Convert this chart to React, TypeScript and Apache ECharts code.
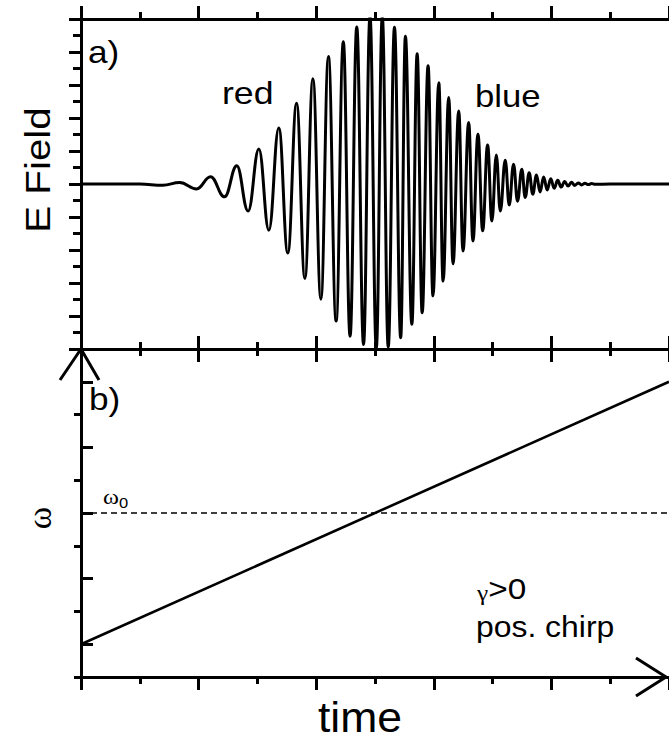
import { useEffect, useRef } from "react";
import * as echarts from "echarts";

// Chirped pulse, drawn through its successive maxima and minima (time in axis units, field in axis units)
const pulseTime = [
  0, 1.0, 1.39, 1.678, 1.966, 2.203, 2.441, 2.649, 2.842, 3.025, 3.195, 3.364, 3.517, 3.666,
  3.808, 3.944, 4.08, 4.208, 4.339, 4.461, 4.576, 4.69, 4.805, 4.915, 5.022, 5.124, 5.225,
  5.331, 5.437, 5.517, 5.627, 5.717, 5.802, 5.903, 5.986, 6.085, 6.158, 6.254, 6.327, 6.424,
  6.497, 6.593, 6.666, 6.751, 6.831, 6.915, 6.988, 7.063, 7.131, 7.215, 7.283, 7.356, 7.424,
  7.497, 7.554, 7.622, 7.683, 7.746, 7.807, 7.868, 7.929, 7.988, 8.047, 8.107, 8.166, 8.225,
  8.283, 8.341, 8.398, 8.456, 8.514, 8.571, 8.627, 8.685, 8.741, 9.0, 10,
];
const pulseField = [
  0, 0, -0.04, 0.045, -0.15, 0.22, -0.39, 0.55, -0.82, 1.06, -1.4, 1.7, -2.09, 2.45,
  -2.86, 3.19, -3.49, 3.86, -4.15, 4.31, -4.61, 4.76, -4.86, 5.08, -4.98, 5.08, -4.94,
  4.75, -4.66, 4.48, -4.25, 3.95, -3.9, 3.58, -3.39, 3.07, -2.94, 2.62, -2.42, 2.21,
  -2.03, 1.86, -1.73, 1.51, -1.42, 1.18, -1.12, 0.88, -0.82, 0.72, -0.64, 0.6, -0.52,
  0.45, -0.41, 0.34, -0.31, 0.27, -0.24, 0.21, -0.18, 0.16, -0.13, 0.11, -0.094, 0.079,
  -0.064, 0.052, -0.042, 0.033, -0.027, 0.021, -0.017, 0.014, -0.011, 0, 0,
];

// Instantaneous frequency of the positively chirped pulse
const chirpTime = [0, 10];
const chirpOmega = [1, 9];
const omega0 = 5;

// Axis extents and tick positions
const timeRange = [0, 10];
const fieldRange = [-5, 5];
const omegaRange = [0, 10];
const omegaLongTicks = [1, 3, 5, 7, 9];
const omegaShortTicks = [0, 2, 4, 6, 8, 10];

const FONT = "Liberation Sans, Arial, sans-serif";
const SERIF = "Liberation Serif, Times New Roman, serif";
const INK = "#000";

const tickStyle = { color: INK, width: 3 };

function xAxisDef(gridIndex: number, position: "top" | "bottom", inside: boolean) {
  return {
    type: "value",
    gridIndex,
    position,
    min: timeRange[0],
    max: timeRange[1],
    interval: 2,
    axisLine: { show: true, onZero: false, lineStyle: { color: INK, width: 3 } },
    axisTick: { show: true, inside, length: 13, lineStyle: tickStyle },
    minorTick: { show: true, splitNumber: 2, length: 7, lineStyle: tickStyle },
    axisLabel: { show: false },
    splitLine: { show: false },
  };
}

// plain text label; the face is set slightly wide, as in the figure
function label(text: string, x: number, y: number, size: number, sx: number, align = "left", rotation = 0, family = FONT) {
  return {
    type: "text",
    x,
    y,
    rotation,
    scaleX: sx,
    style: { text, font: `${size}px ${family}`, fill: INK, align, verticalAlign: "middle" },
  };
}

export default function App() {
  const ref = useRef<HTMLDivElement>(null);

  useEffect(() => {
    if (!ref.current) return;
    const chart = echarts.init(ref.current, undefined, { renderer: "svg" });

    chart.setOption({
      animation: false,
      backgroundColor: "#fff",
      grid: [
        { left: 81, top: 19, width: 590, height: 330 },
        { left: 81, top: 349, width: 590, height: 328 },
      ],
      xAxis: [
        xAxisDef(0, "top", false),
        xAxisDef(0, "bottom", true),
        xAxisDef(1, "top", true),
        xAxisDef(1, "bottom", false),
      ],
      yAxis: [
        {
          type: "value",
          gridIndex: 0,
          min: fieldRange[0],
          max: fieldRange[1],
          interval: 1,
          axisLine: { show: true, onZero: false, lineStyle: { color: INK, width: 3 } },
          axisTick: { show: true, inside: false, length: 12, lineStyle: tickStyle },
          minorTick: { show: true, splitNumber: 2, length: 8, lineStyle: tickStyle },
          axisLabel: { show: false },
          splitLine: { show: false },
        },
        {
          type: "value",
          gridIndex: 1,
          min: omegaRange[0],
          max: omegaRange[1],
          axisLine: { show: true, onZero: false, lineStyle: { color: INK, width: 3 } },
          axisTick: { show: true, inside: false, length: 7, customValues: omegaShortTicks, lineStyle: tickStyle },
          axisLabel: { show: false },
          splitLine: { show: false },
        },
        {
          type: "value",
          gridIndex: 1,
          min: omegaRange[0],
          max: omegaRange[1],
          axisLine: { show: false },
          axisTick: { show: true, inside: false, length: 12, customValues: omegaLongTicks, lineStyle: tickStyle },
          axisLabel: { show: false },
          splitLine: { show: false },
        },
      ],
      series: [
        {
          name: "E Field",
          type: "line",
          xAxisIndex: 0,
          yAxisIndex: 0,
          data: pulseTime.map((t, i) => [t, pulseField[i]]),
          showSymbol: false,
          smooth: 0.42,
          smoothMonotone: "x",
          clip: true,
          lineStyle: { color: INK, width: 3 },
        },
        {
          name: "ω",
          type: "line",
          xAxisIndex: 3,
          yAxisIndex: 1,
          data: chirpTime.map((t, i) => [t, chirpOmega[i]]),
          showSymbol: false,
          lineStyle: { color: INK, width: 2.6 },
        },
        {
          name: "ω0",
          type: "line",
          xAxisIndex: 3,
          yAxisIndex: 1,
          data: timeRange.map((t) => [t, omega0]),
          showSymbol: false,
          lineStyle: { color: INK, width: 1.3, type: [6, 4] },
        },
      ],
    });

    // Arrow heads on the frequency axes, placed at the ends of the lower plot's axes
    const origin = chart.convertToPixel({ xAxisIndex: 3, yAxisIndex: 1 }, [timeRange[0], omegaRange[0]]) as number[];
    const top = chart.convertToPixel({ xAxisIndex: 3, yAxisIndex: 1 }, [timeRange[0], omegaRange[1]]) as number[];
    const end = chart.convertToPixel({ xAxisIndex: 3, yAxisIndex: 1 }, [timeRange[1], omegaRange[0]]) as number[];
    const tipX = end[0] - 3;
    const arrowStyle = { stroke: INK, lineWidth: 3, fill: "none" };

    chart.setOption({
      graphic: [
        {
          type: "polyline",
          shape: { points: [[top[0] - 21, top[1] + 31], [top[0], top[1]], [top[0] + 18, top[1] + 31]] },
          style: arrowStyle,
          z: 100,
        },
        {
          type: "polyline",
          shape: { points: [[tipX - 30, origin[1] - 19], [tipX, origin[1]], [tipX - 30, origin[1] + 19]] },
          style: arrowStyle,
          z: 100,
        },
        label("E Field", 37, 170, 36, 1.12, "center", Math.PI / 2),
        label("ω", 39, 518, 34, 1.0, "center", Math.PI / 2, SERIF),
        label("time", 360, 717, 42, 1.06, "center"),
        label("a)", 88, 52, 32, 1.1),
        label("b)", 89, 399, 32, 1.1),
        label("red", 222, 93, 31, 1.15),
        label("blue", 475, 96, 31, 1.12),
        label("pos. chirp", 476, 627, 29, 1.1),
        {
          type: "text",
          x: 103,
          y: 496,
          scaleX: 1.1,
          style: {
            text: "{w|ω}{s|0}",
            fill: INK,
            align: "left",
            verticalAlign: "middle",
            rich: {
              w: { font: `22px ${SERIF}`, fill: INK },
              s: { font: `15px ${FONT}`, fill: INK, padding: [13, 0, 0, 0] },
            },
          },
        },
        {
          type: "text",
          x: 477,
          y: 589,
          scaleX: 1.15,
          style: {
            text: "{g|γ}{t|>0}",
            fill: INK,
            align: "left",
            verticalAlign: "middle",
            rich: {
              g: { font: `22px ${SERIF}`, fill: INK, padding: [7, 0, 0, 0] },
              t: { font: `29px ${FONT}`, fill: INK },
            },
          },
        },
      ],
    });

    return () => chart.dispose();
  }, []);

  return (
    <div
      ref={ref}
      style={{ position: "absolute", left: 0, top: 0, width: 669, height: 745, background: "#fff" }}
    />
  );
}
